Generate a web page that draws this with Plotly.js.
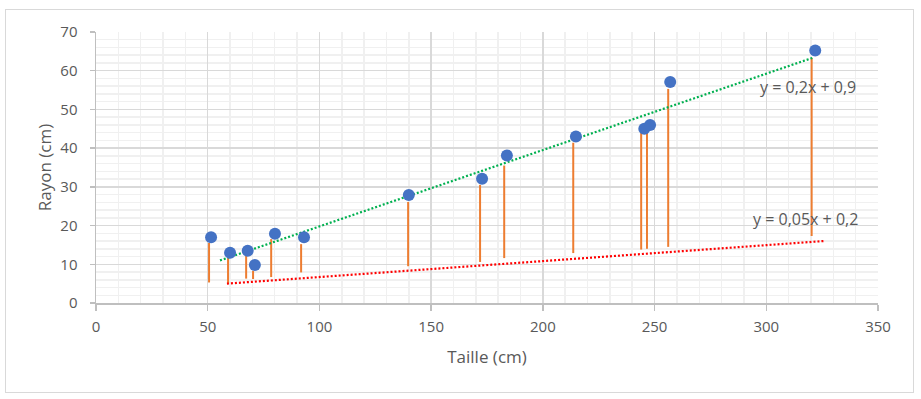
<!DOCTYPE html>
<html>
<head>
<meta charset="utf-8">
<script src="https://cdn.plot.ly/plotly-3.0.1.min.js"></script>
<style>
  html, body { margin: 0; padding: 0; background: #ffffff; }
  #chart { position: absolute; left: 0; top: 0; width: 921px; height: 399px; }
  #frame { position: absolute; left: 5px; top: 9px; width: 909px; height: 384px;
           border: 1.5px solid #d9d9d9; box-sizing: border-box; pointer-events: none; }
</style>
</head>
<body>
<div id="chart"></div>
<div id="frame"></div>
<script>
// Points: Taille (cm) vs Rayon (cm)
var taille = [51.5, 60.0, 67.9, 71.1, 80.1, 93.1, 140.0, 172.8, 183.9, 214.8, 245.4, 248.0, 257.0, 321.9];
var rayon  = [17.0, 13.0, 13.5, 9.8, 17.9, 17.0, 27.9, 32.1, 38.1, 43.0, 45.0, 46.0, 57.1, 65.2];

// Orange vertical segments (drawn slightly left of each point)
var segX      = [50.6, 59.1, 67.2, 70.3, 78.4, 91.8, 139.7, 171.9, 182.7, 213.6, 244.0, 246.6, 256.1, 320.3];
var segTop    = [15.5, 11.6, 12.9, 8.3, 16.5, 15.2, 26.1, 30.5, 35.5, 41.4, 43.9, 44.3, 55.3, 63.3];
var segBottom = [5.3, 5.0, 6.3, 6.2, 6.7, 7.9, 9.5, 10.6, 11.6, 12.9, 13.8, 14.0, 14.5, 17.3];

// Trend lines (end points)
var greenX = [55.5, 320.6];
var greenY = [11.0, 63.3];
var redX = [58.6, 325.6];
var redY = [5.0, 16.0];

// Equation labels
var eqTexts = ["y = 0,2x + 0,9", "y = 0,05x + 0,2"];
var eqX = [296.3, 293.3];
var eqY = [55.8, 21.7];

var xTicks = [0, 50, 100, 150, 200, 250, 300, 350];
var yTicks = [0, 10, 20, 30, 40, 50, 60, 70];

var sx = [], sy = [];
for (var i = 0; i < segX.length; i++) {
  sx.push(segX[i], segX[i], null);
  sy.push(segBottom[i], segTop[i], null);
}

var traces = [
  { x: sx, y: sy, mode: 'lines', type: 'scatter', hoverinfo: 'skip',
    line: { color: '#ed7d31', width: 2 }, showlegend: false },
  { x: redX, y: redY, mode: 'lines', type: 'scatter',
    line: { color: '#ff0000', width: 2.2, dash: '2px,2px' }, showlegend: false },
  { x: greenX, y: greenY, mode: 'lines', type: 'scatter',
    line: { color: '#00b050', width: 2.2, dash: '2px,2px' }, showlegend: false },
  { x: taille, y: rayon, mode: 'markers', type: 'scatter',
    marker: { color: '#4472c4', size: 12 }, showlegend: false }
];

var annotations = eqTexts.map(function (t, k) {
  return { x: eqX[k], y: eqY[k], xref: 'x', yref: 'y', text: t, showarrow: false,
           xanchor: 'left', yanchor: 'middle',
           font: { family: 'Open Sans, sans-serif', size: 16, color: '#595959' } };
});

var tickFont = { family: 'Open Sans, sans-serif', size: 15, color: '#595959' };

var layout = {
  width: 921, height: 399,
  margin: { l: 96, r: 43.3, t: 32.3, b: 96.3, pad: 0 },
  paper_bgcolor: '#ffffff', plot_bgcolor: '#ffffff',
  showlegend: false,
  xaxis: {
    range: [0, 350], tickvals: xTicks, ticktext: xTicks.map(String),
    showgrid: true, gridcolor: '#d9d9d9', gridwidth: 1.5,
    minor: { dtick: 10, tick0: 0, showgrid: true, gridcolor: '#f0f0f0', gridwidth: 1.5 },
    showline: true, linecolor: '#bfbfbf', linewidth: 1.5,
    ticks: 'outside', ticklen: 6, tickcolor: '#bfbfbf', tickwidth: 1.5,
    ticklabelstandoff: 3,
    zeroline: false, tickfont: tickFont,
    title: { text: 'Taille (cm)', font: { family: 'Open Sans, sans-serif', size: 17, color: '#595959' }, standoff: 16 },
    automargin: false
  },
  yaxis: {
    range: [0, 70], tickvals: yTicks, ticktext: yTicks.map(String),
    showgrid: true, gridcolor: '#d9d9d9', gridwidth: 1.5,
    minor: { dtick: 2, tick0: 0, showgrid: true, gridcolor: '#f0f0f0', gridwidth: 1.5 },
    showline: true, linecolor: '#bfbfbf', linewidth: 1.5,
    ticks: 'outside', ticklen: 5, tickcolor: '#bfbfbf', tickwidth: 1.5,
    ticklabelstandoff: 9,
    zeroline: false, tickfont: tickFont,
    title: { text: 'Rayon (cm)', font: { family: 'Open Sans, sans-serif', size: 17, color: '#595959' }, standoff: 4 },
    automargin: false
  },
  annotations: annotations
};

Plotly.newPlot('chart', traces, layout, { displayModeBar: false, staticPlot: true });
</script>
</body>
</html>
